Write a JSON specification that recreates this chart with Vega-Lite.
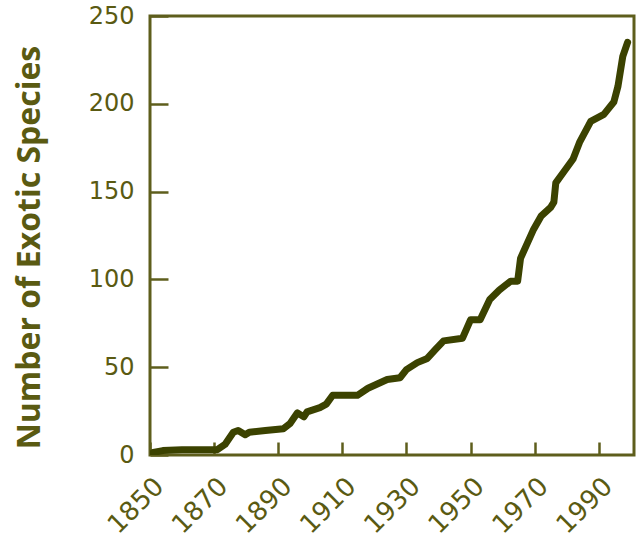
{
  "$schema": "https://vega.github.io/schema/vega-lite/v6.json",
  "width": 484,
  "height": 439,
  "autosize": "none",
  "padding": {"left": 150, "top": 16, "right": 10, "bottom": 85},
  "background": "white",
  "config": {
    "view": {"stroke": "#5e5e1c", "strokeWidth": 3},
    "axis": {"grid": false, "domain": false, "tickColor": "#5e5e1c", "tickWidth": 2.5, "labelColor": "#5a5a12", "titleColor": "#5a5a12", "labelFont": "DejaVu Sans", "titleFont": "Open Sans"}
  },
  "data": {"values": [
    {"year": 1850, "n": 0},
    {"year": 1851, "n": 1.5},
    {"year": 1854, "n": 2.5},
    {"year": 1860, "n": 3},
    {"year": 1868, "n": 3},
    {"year": 1871, "n": 3},
    {"year": 1873.4, "n": 6},
    {"year": 1876, "n": 13},
    {"year": 1877.5, "n": 14},
    {"year": 1879.7, "n": 11.5},
    {"year": 1881, "n": 13},
    {"year": 1886, "n": 14},
    {"year": 1891.6, "n": 15},
    {"year": 1893.7, "n": 18},
    {"year": 1896, "n": 24},
    {"year": 1898, "n": 21.7},
    {"year": 1899, "n": 24.6},
    {"year": 1903, "n": 27},
    {"year": 1905, "n": 29},
    {"year": 1907, "n": 34},
    {"year": 1914.7, "n": 34},
    {"year": 1918, "n": 38},
    {"year": 1924, "n": 43},
    {"year": 1928, "n": 44},
    {"year": 1930, "n": 48.6},
    {"year": 1933.4, "n": 52.6},
    {"year": 1936.5, "n": 55},
    {"year": 1939, "n": 60},
    {"year": 1941.6, "n": 65},
    {"year": 1947.5, "n": 66.5},
    {"year": 1950, "n": 77},
    {"year": 1953, "n": 77},
    {"year": 1956, "n": 88.6},
    {"year": 1959, "n": 94},
    {"year": 1962.5, "n": 99},
    {"year": 1964.7, "n": 99},
    {"year": 1965.6, "n": 112},
    {"year": 1969.7, "n": 128.6},
    {"year": 1972, "n": 136},
    {"year": 1975, "n": 141},
    {"year": 1976, "n": 144},
    {"year": 1976.6, "n": 155},
    {"year": 1979, "n": 161},
    {"year": 1982, "n": 168.6},
    {"year": 1984, "n": 178},
    {"year": 1987.5, "n": 190},
    {"year": 1991.6, "n": 194},
    {"year": 1994.7, "n": 201},
    {"year": 1996, "n": 210},
    {"year": 1997.5, "n": 227},
    {"year": 1999, "n": 235}
  ]},
  "mark": {"type": "line", "color": "#3b4200", "strokeWidth": 7, "strokeJoin": "round", "strokeCap": "round", "clip": true},
  "encoding": {
    "x": {
      "field": "year", "type": "quantitative",
      "scale": {"domain": [1850, 2001], "nice": false, "zero": false},
      "axis": {"values": [1850, 1870, 1890, 1910, 1930, 1950, 1970, 1990], "format": "d", "title": null, "tickSize": -13, "labelAngle": -45, "labelAlign": "right", "labelBaseline": "middle", "labelFontSize": 26, "labelPadding": 40, "labelOffset": 9, "labelFlush": false, "labelBound": false, "labelOverlap": false}
    },
    "y": {
      "field": "n", "type": "quantitative",
      "scale": {"domain": [0, 250], "nice": false},
      "axis": {"values": [0, 50, 100, 150, 200, 250], "title": "Number of Exotic Species", "titleFontSize": 32, "titleFontWeight": "bold", "titlePadding": 42, "titleY": 231, "tickSize": -18, "labelFontSize": 24, "labelPadding": 34, "labelFlush": false, "labelOverlap": false}
    }
  }
}
